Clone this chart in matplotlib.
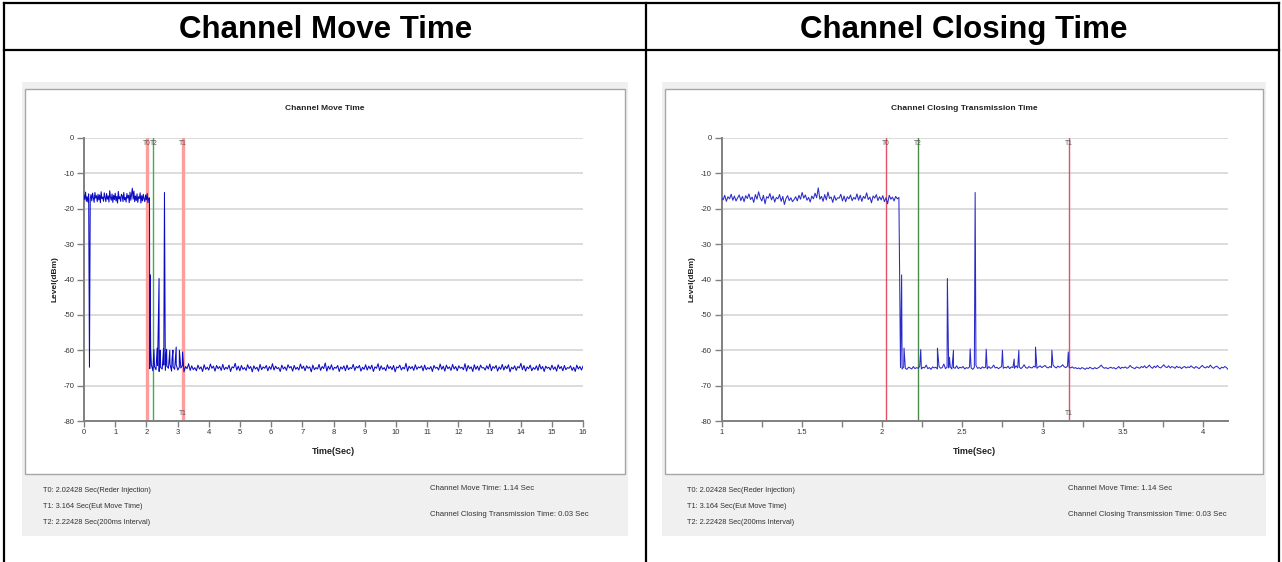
import numpy as np
import matplotlib
matplotlib.use("Agg")
import matplotlib.pyplot as plt
from matplotlib.patches import Rectangle
from matplotlib.lines import Line2D

plt.rcParams["axes.unicode_minus"] = False

# ---------------- data ----------------
HEADERS = ["Channel Move Time", "Channel Closing Time"]
CHART_TITLES = ["Channel Move Time", "Channel Closing Transmission Time"]

T0 = 2.02428   # radar injection
T1 = 3.164     # EUT move time
T2 = 2.22428   # 200 ms interval

INFO_LEFT = ["T0: 2.02428 Sec(Reder Injection)",
             "T1: 3.164 Sec(Eut Move Time)",
             "T2: 2.22428 Sec(200ms Interval)"]
INFO_RIGHT = ["Channel Move Time: 1.14 Sec",
              "Channel Closing Transmission Time: 0.03 Sec"]

# isolated spikes after the channel was vacated (time s, level dBm)
SPIKE_T = [2.122, 2.137, 2.241, 2.345, 2.407, 2.420, 2.445, 2.549, 2.580,
           2.649, 2.750, 2.823, 2.852, 2.956, 3.058, 3.160]
SPIKE_L = [-38.7, -59.4, -59.8, -59.4, -39.7, -62.0, -60.0, -59.6, -15.4,
           -59.7, -60.0, -62.5, -60.0, -59.1, -60.0, -60.5]

# left chart (0 .. 16 s): level before the move, 0 .. 2.10 s
L_PRE = [-16.2, -17.4, -15.3, -17.9, -16.6, -18.1, -15.8, -64.8, -17.2, -16.0,
         -17.8, -15.6, -16.9, -18.2, -15.4, -17.0, -16.3, -18.0, -15.9, -17.5,
         -16.1, -18.3, -15.2, -17.1, -16.7, -17.9, -15.5, -16.8, -18.0, -15.7,
         -17.3, -16.4, -18.1, -14.9, -16.9, -17.6, -15.8, -18.2, -16.2, -17.4,
         -15.6, -17.8, -16.5, -18.4, -15.1, -17.2, -16.6, -17.9, -15.9, -16.3,
         -18.0, -15.4, -17.5, -16.8, -18.1, -15.7, -17.0, -16.2, -18.3, -15.3,
         -17.6, -16.0, -14.2, -17.3, -15.0, -18.0, -16.4, -17.7, -15.8, -18.2,
         -16.6, -17.1, -15.5, -18.4, -16.3, -17.8, -15.9, -17.2, -18.0, -16.1,
         -17.5, -15.7, -18.3, -17.0, -16.9]
# left chart: level after the move, 2.11 .. 16 s
L_POST = [-65.2, -64.1, -65.8, -64.6, -65.5, -64.3, -66.0, -64.9, -65.3, -64.2,
          -65.7, -64.5, -65.1, -63.9, -65.9, -64.7, -65.4, -64.0, -65.6, -64.8,
          -65.0, -64.3, -66.1, -64.6, -65.2, -63.8, -65.7, -64.4, -65.5, -64.9,
          -65.8, -64.2, -65.3, -64.7, -66.0, -64.1, -65.4, -64.8, -65.6, -63.9,
          -65.1, -64.5, -65.9, -64.3, -65.2, -64.6, -65.7, -64.0, -65.5, -64.8,
          -65.3, -64.2, -66.0, -64.7, -65.0, -63.7, -65.6, -64.5, -65.8, -64.3,
          -65.4, -64.9, -65.7, -64.1, -65.2, -64.6, -66.1, -64.4, -65.3, -64.8,
          -65.9, -64.0, -65.5, -64.7, -65.1, -64.3, -65.8, -64.6, -65.4, -63.8,
          -65.6, -64.5, -65.2, -64.9, -66.0, -64.2, -65.3, -64.7, -65.7, -64.1,
          -65.0, -64.6, -65.9, -64.3, -65.4, -64.8, -65.6, -63.9, -65.2, -64.5,
          -65.8, -64.4, -65.1, -64.7, -66.1, -64.2, -65.5, -64.9, -65.3, -64.0,
          -65.7, -64.6, -65.2, -63.6, -65.9, -64.5, -65.4, -64.1, -65.6, -64.8,
          -65.1, -64.3, -66.0, -64.7, -65.3, -64.4, -65.8, -64.2, -65.5, -64.9,
          -65.2, -64.0, -65.7, -64.6, -65.0, -64.3, -65.9, -64.8, -65.4, -64.1,
          -65.6, -64.5, -65.3, -64.2, -66.0, -64.7, -65.1, -63.8, -65.7, -64.4,
          -65.4, -64.9, -65.8, -64.1, -65.2, -64.6, -65.5, -64.3, -66.1, -64.7,
          -65.0, -64.2, -65.6, -64.8, -65.3, -63.7, -65.9, -64.5, -65.2, -64.6,
          -65.7, -64.1, -65.4, -64.7, -65.0, -64.4, -65.8, -64.2, -65.5, -64.9,
          -65.3, -64.6, -66.0, -64.3, -65.1, -64.8, -65.6, -63.9, -65.4, -64.5,
          -65.9, -64.2, -65.2, -64.7, -65.7, -64.0, -65.3, -64.6, -65.8, -64.4,
          -65.1, -64.8, -65.5, -63.8, -65.9, -64.3, -65.2, -64.7, -66.0, -64.1,
          -65.4, -64.5, -65.7, -64.2, -65.0, -64.9, -65.6, -64.4, -65.3, -63.9,
          -65.8, -64.6, -65.1, -64.3, -65.9, -64.7, -65.4, -64.0, -65.6, -64.5,
          -65.2, -64.1, -66.1, -64.8, -65.3, -64.4, -65.7, -64.6, -65.0, -63.7,
          -65.5, -64.3, -65.9, -64.7, -65.2, -64.2, -65.8, -64.9, -65.4, -64.4,
          -65.7, -64.0, -65.3, -64.6, -66.0, -64.5, -65.1, -64.8, -65.6, -64.2,
          -65.4, -64.7, -65.9, -64.1, -65.2, -64.6, -65.8, -64.3, -65.5, -64.9,
          -65.1, -64.4, -65.7, -64.8, -66.0, -64.2, -65.3, -64.6, -65.6, -64.5]

# right chart (1 .. 4.155 s): level before the move, 1.00 .. 2.105 s
R_PRE = [-16.8, -17.5, -16.2, -17.9, -16.6, -17.2, -15.9, -17.6, -16.4, -17.8,
         -16.9, -16.1, -17.7, -16.5, -18.0, -16.3, -17.1, -15.8, -17.4, -16.7,
         -18.2, -16.0, -17.3, -15.2, -16.9, -17.8, -16.2, -18.6, -16.6, -17.0,
         -15.7, -17.5, -16.4, -18.1, -16.8, -17.2, -16.0, -17.9, -16.5, -18.8,
         -17.1, -16.3, -17.7, -16.9, -18.0, -17.4, -16.6, -17.8, -16.2, -17.3,
         -15.4, -17.0, -16.1, -17.6, -16.8, -18.1, -16.4, -17.2, -15.6, -16.9,
         -14.1, -17.3, -16.5, -17.9, -16.0, -17.5, -15.3, -17.1, -16.7, -18.2,
         -16.3, -17.6, -16.9, -17.0, -15.9, -17.8, -16.4, -18.0, -16.6, -17.2,
         -16.1, -17.7, -16.8, -17.3, -15.8, -17.6, -16.2, -17.9, -16.5, -17.1,
         -15.5, -17.4, -16.7, -18.3, -16.4, -17.0, -16.0, -17.7, -16.6, -17.5,
         -16.3, -18.0, -16.9, -18.6, -16.2, -17.3, -16.7, -17.8, -16.5, -17.2,
         -16.8]
# right chart: level after the move, 2.115 .. 4.155 s
R_POST = [-64.9, -65.3, -64.7, -65.1, -65.4, -64.8, -65.0, -65.3, -64.6, -65.2,
          -64.9, -65.1, -64.5, -65.3, -64.8, -65.0, -64.2, -65.2, -64.9, -65.4,
          -64.7, -65.0, -64.8, -65.3, -64.6, -65.1, -64.9, -63.9, -65.2, -64.8,
          -65.0, -64.7, -65.3, -64.9, -65.1, -64.4, -65.2, -64.8, -65.0, -64.6,
          -65.3, -64.9, -65.1, -64.7, -65.0, -65.4, -64.8, -64.3, -65.1, -64.9,
          -65.2, -64.7, -65.0, -64.8, -65.3, -64.6, -65.1, -64.9, -64.2, -65.0,
          -64.8, -65.2, -64.9, -64.6, -65.1, -64.8, -65.0, -64.5, -65.2, -64.7,
          -64.9, -65.1, -64.4, -65.0, -64.7, -65.2, -64.8, -64.1, -64.9, -65.1,
          -64.6, -64.9, -65.0, -64.5, -64.8, -65.1, -64.7, -64.4, -64.9, -64.6,
          -64.3, -64.8, -65.0, -64.6, -64.9, -64.2, -64.7, -65.0, -64.5, -64.8,
          -64.6, -64.1, -64.7, -64.9, -64.5, -64.8, -65.0, -64.7, -65.1, -64.9,
          -65.2, -65.0, -65.3, -64.9, -65.1, -65.4, -65.0, -65.2, -64.8, -65.1,
          -65.3, -64.9, -65.2, -65.0, -64.7, -64.2, -64.8, -65.1, -64.9, -65.2,
          -65.0, -64.8, -65.1, -64.9, -65.3, -65.0, -64.6, -65.2, -64.8, -65.0,
          -64.7, -65.1, -64.9, -64.3, -64.8, -65.0, -65.2, -64.7, -64.9, -65.1,
          -64.6, -64.9, -64.4, -65.0, -64.7, -64.2, -64.8, -65.1, -64.5, -64.9,
          -64.3, -64.8, -65.0, -64.6, -64.1, -64.7, -64.9, -64.4, -65.0, -64.6,
          -64.8, -65.1, -64.5, -64.9, -64.7, -65.2, -64.8, -64.6, -65.0, -64.7,
          -64.9, -64.4, -64.8, -65.1, -64.6, -64.9, -65.2, -64.7, -64.3, -64.8,
          -65.0, -64.6, -64.9, -64.2, -64.8, -65.1, -64.7, -64.5, -64.9, -65.3,
          -64.8, -65.0, -64.6, -64.9, -65.4]

Y_TICKS = [0, -10, -20, -30, -40, -50, -60, -70, -80]
L_XTICKS = list(range(0, 17))
R_XTICKS = [1, 1.5, 2, 2.5, 3, 3.5, 4]
R_XTICK_LABELS = ["1", "1.5", "2", "2.5", "3", "3.5", "4"]
R_XMINOR = [1.25, 1.75, 2.25, 2.75, 3.25, 3.75]

# ---------------- figure ----------------
W, H = 1282, 562
fig = plt.figure(figsize=(W / 100, H / 100), dpi=100)
fig.patch.set_facecolor("white")

NARROW = ["Liberation Sans Narrow", "Liberation Sans", "DejaVu Sans"]
ARIAL = ["Liberation Sans", "DejaVu Sans"]


def fx(x):
    return x / W


def fy(y):
    return 1 - y / H


def fig_line(x0, y0, x1, y1, **kw):
    fig.add_artist(Line2D([fx(x0), fx(x1)], [fy(y0), fy(y1)],
                          transform=fig.transFigure, **kw))


def fig_rect(x0, y0, x1, y1, **kw):
    fig.add_artist(Rectangle((fx(x0), fy(y1)), (x1 - x0) / W, (y1 - y0) / H,
                             transform=fig.transFigure, **kw))


# table grid
tbl = dict(color="black", lw=1.6, zorder=10, solid_capstyle="projecting")
fig_line(4, 3, 1279, 3, **tbl)
fig_line(4, 50, 1279, 50, **tbl)
fig_line(4, 3, 4, 562, **tbl)
fig_line(646, 3, 646, 562, **tbl)
fig_line(1279, 3, 1279, 562, **tbl)

fig.text(fx(326), fy(30), HEADERS[0], ha="center", va="center",
         fontsize=22.5, fontweight="bold", family=ARIAL)
fig.text(fx(964), fy(30), HEADERS[1], ha="center", va="center",
         fontsize=22.5, fontweight="bold", family=ARIAL)

panels = [
    dict(px0=22, px1=628, ax0=84, ax1=583, xlim=(0, 16), info_x=43, info_r=430),
    dict(px0=662, px1=1266, ax0=721.5, ax1=1228, xlim=(1, 4.155), info_x=687, info_r=1068),
]
AX_TOP, AX_BOT = 138, 421

for i, p in enumerate(panels):
    fig_rect(p["px0"], 82, p["px1"], 536, facecolor="#f0f0f0", edgecolor="none", zorder=-3)
    fig_rect(p["px0"] + 3, 89, p["px1"] - 3, 474, facecolor="white",
             edgecolor="#a6a6a6", lw=1.0, zorder=-2)
    cx = (p["px0"] + p["px1"]) / 2
    fig.text(fx(cx), fy(109), CHART_TITLES[i], ha="center", va="center",
             fontsize=6.0, fontweight="bold", family=NARROW, color="#222222")

    ax = fig.add_axes([fx(p["ax0"]), fy(AX_BOT), (p["ax1"] - p["ax0"]) / W,
                       (AX_BOT - AX_TOP) / H])
    ax.set_facecolor("none")
    ax.set_xlim(*p["xlim"])
    ax.set_ylim(-80, 0)
    for s in ("top", "right"):
        ax.spines[s].set_visible(False)
    for s in ("left", "bottom"):
        ax.spines[s].set_color("#808080")
        ax.spines[s].set_linewidth(1.4)
    ax.set_axisbelow(True)
    ax.yaxis.grid(True, color="#d9d9d9", lw=1.3)
    ax.set_yticks(Y_TICKS)
    ax.set_yticklabels([str(v) for v in Y_TICKS])
    ax.tick_params(axis="both", which="both", direction="out", color="#808080",
                   width=1.0, labelsize=5.5, labelcolor="#333333", pad=2)
    ax.tick_params(axis="y", which="both", length=5)
    ax.tick_params(axis="x", which="both", length=4)
    for lab in ax.get_xticklabels() + ax.get_yticklabels():
        lab.set_family(NARROW)

    if i == 0:
        ax.set_xticks(L_XTICKS)
        ax.set_xticklabels([str(v) for v in L_XTICKS], family=NARROW)
        t = np.concatenate([np.linspace(0, 2.10, len(L_PRE)),
                            np.linspace(2.11, 16.0, len(L_POST)), SPIKE_T])
        lv = np.concatenate([L_PRE, L_POST, SPIKE_L])
        order = np.argsort(t)
        ax.plot(t[order], lv[order], color="#0b0bc4", lw=0.75, zorder=3)
        red, green, vlw, glw = "#ff9c9c", "#3fb23f", 2.4, 1.0
    else:
        ax.set_xticks(R_XTICKS)
        ax.set_xticklabels(R_XTICK_LABELS, family=NARROW)
        ax.set_xticks(R_XMINOR, minor=True)
        t = np.concatenate([np.linspace(1.0, 2.105, len(R_PRE)),
                            np.linspace(2.115, 4.155, len(R_POST)), SPIKE_T])
        lv = np.concatenate([R_PRE, R_POST, SPIKE_L])
        order = np.argsort(t)
        ax.plot(t[order], lv[order], color="#2a2ac8", lw=0.75, zorder=3)
        red, green, vlw, glw = "#e4506a", "#4a8a4a", 1.0, 1.0

    ax.axvline(T0, color=red, lw=vlw, zorder=2)
    ax.axvline(T2, color=green, lw=glw, zorder=2)
    ax.axvline(T1, color=red, lw=vlw, zorder=2)
    lab_kw = dict(ha="center", va="center", fontsize=4.8, color="#555555", family=NARROW)
    ax.text(T0, -1.5, "T0", **lab_kw)
    ax.text(T2, -1.5, "T2", **lab_kw)
    ax.text(T1, -1.5, "T1", **lab_kw)
    ax.text(T1, -78.0, "T1", **lab_kw)

    # axis labels
    fig.text(fx(p["ax0"] - 29), fy((AX_TOP + AX_BOT) / 2), "Level(dBm)", rotation=90,
             ha="center", va="center", fontsize=6, fontweight="bold", family=NARROW,
             color="#222222")
    fig.text(fx((p["ax0"] + p["ax1"]) / 2), fy(452), "Time(Sec)", ha="center",
             va="center", fontsize=6.5, fontweight="bold", family=NARROW, color="#222222")

    # info texts
    for k, s in enumerate(INFO_LEFT):
        fig.text(fx(p["info_x"]), fy(491 + 16 * k), s, ha="left", va="center",
                 fontsize=5.3, family=NARROW, color="#333333")
    for k, s in enumerate(INFO_RIGHT):
        fig.text(fx(p["info_r"]), fy(489 + 25 * k), s, ha="left", va="center",
                 fontsize=5.6, family=NARROW, color="#333333")

fig.savefig("out.png", dpi=100, facecolor="white")
